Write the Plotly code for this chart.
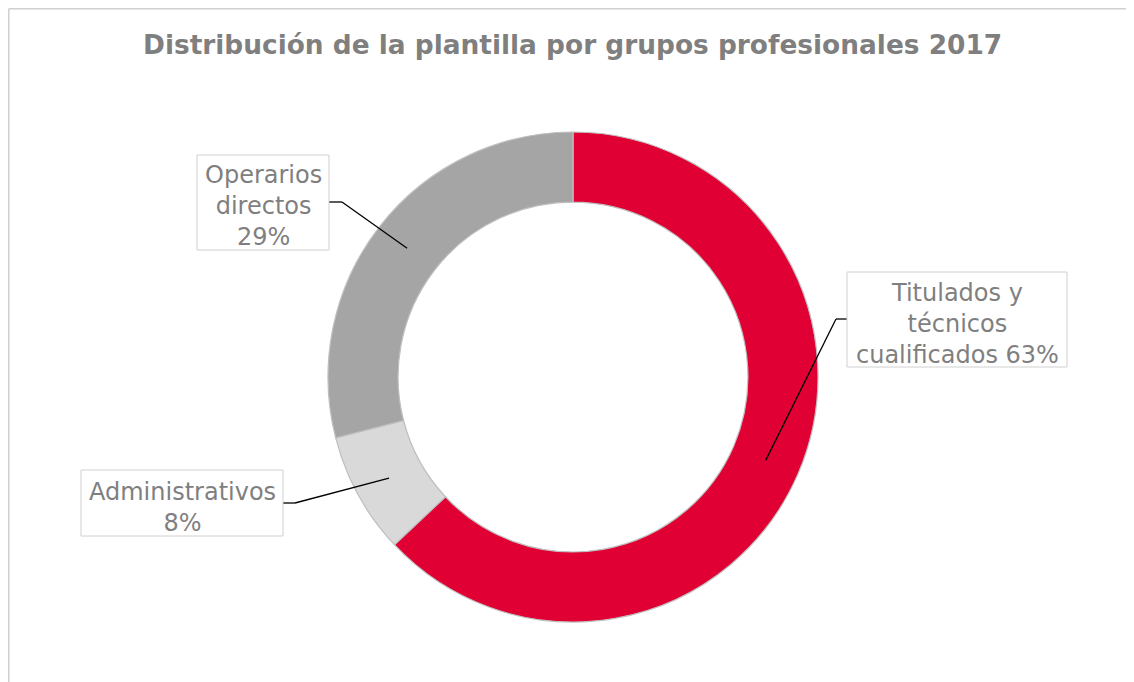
import math
import plotly.graph_objects as go

# ---- data ----
categories = ["Titulados y técnicos cualificados", "Administrativos", "Operarios directos"]
values = [63, 8, 29]
label_texts = ["Titulados y<br>técnicos<br>cualificados 63%", "Administrativos<br>8%", "Operarios<br>directos<br>29%"]
colors = ["#E00034", "#D9D9D9", "#A5A5A5"]
title_text = "Distribución de la plantilla por grupos profesionales 2017"

W, H = 1134, 682
OFF = 8  # page body margin

# pie placement (pixels in the screenshot)
cx, cy, R = 573, 377, 245
hole = 0.714

def fx(px):
    return (px - OFF) / W

def fy(py):
    return 1 - (py - OFF) / H

fig = go.Figure(go.Pie(
    labels=categories, values=values, sort=False, direction="clockwise", rotation=0,
    hole=hole, textinfo="none", hoverinfo="label+percent",
    marker=dict(colors=colors, line=dict(color="#BFBFBF", width=1.2)),
    domain=dict(x=[fx(cx - R), fx(cx + R)], y=[fy(cy + R), fy(cy - R)]),
    showlegend=False,
))

# label boxes (pixels: left, top, right, bottom) and elbow points for leaders
boxes = [
    (847, 272, 1067, 367),
    (81, 470, 283, 536),
    (197, 155, 329, 250),
]
elbows = [
    ((836, 319), (847, 319)),
    ((295, 503), (283, 503)),
    ((342, 202), (329, 202)),
]

total = sum(values)
cum = 0
shapes = []
annotations = []
rmid = R * (1 + hole) / 2
for i, v in enumerate(values):
    mid = (cum + v / 2) / total * 2 * math.pi
    cum += v
    ax = cx + rmid * math.sin(mid)
    ay = cy - rmid * math.cos(mid)
    (ex, ey), (bx, by) = elbows[i]
    shapes.append(dict(type="line", xref="paper", yref="paper",
                       x0=fx(ax), y0=fy(ay), x1=fx(ex), y1=fy(ey),
                       line=dict(color="black", width=1.3)))
    shapes.append(dict(type="line", xref="paper", yref="paper",
                       x0=fx(ex), y0=fy(ey), x1=fx(bx), y1=fy(by),
                       line=dict(color="black", width=1.3)))
    l, t, r, b = boxes[i]
    shapes.append(dict(type="rect", xref="paper", yref="paper",
                       x0=fx(l), y0=fy(b), x1=fx(r), y1=fy(t),
                       line=dict(color="#D0D0D0", width=1), fillcolor="white", layer="above"))
    annotations.append(dict(
        text=label_texts[i], xref="paper", yref="paper",
        x=fx((l + r) / 2), y=fy((t + b) / 2), xanchor="center", yanchor="middle",
        showarrow=False, align="center", yshift=-4,
        font=dict(family="DejaVu Sans", size=24, color="#7F7F7F"),
    ))

# chart area border (left and top edges visible, at figure edge)
shapes.append(dict(type="line", xref="paper", yref="paper", x0=fx(8.8), y0=fy(8.8), x1=fx(1150), y1=fy(8.8),
                   line=dict(color="#D0D0D0", width=1.5)))
shapes.append(dict(type="line", xref="paper", yref="paper", x0=fx(8.8), y0=fy(8.8), x1=fx(8.8), y1=fy(700),
                   line=dict(color="#D0D0D0", width=1.5)))

annotations.append(dict(
    text="<b>" + title_text + "</b>", xref="paper", yref="paper",
    x=fx(572), y=fy(45), xanchor="center", yanchor="middle", showarrow=False,
    font=dict(family="DejaVu Sans", size=26.4, color="#7F7F7F"),
))

fig.update_layout(
    width=W, height=H, margin=dict(l=0, r=0, t=0, b=0),
    paper_bgcolor="white", plot_bgcolor="white",
    shapes=shapes, annotations=annotations,
)

fig.write_html("out.html")
